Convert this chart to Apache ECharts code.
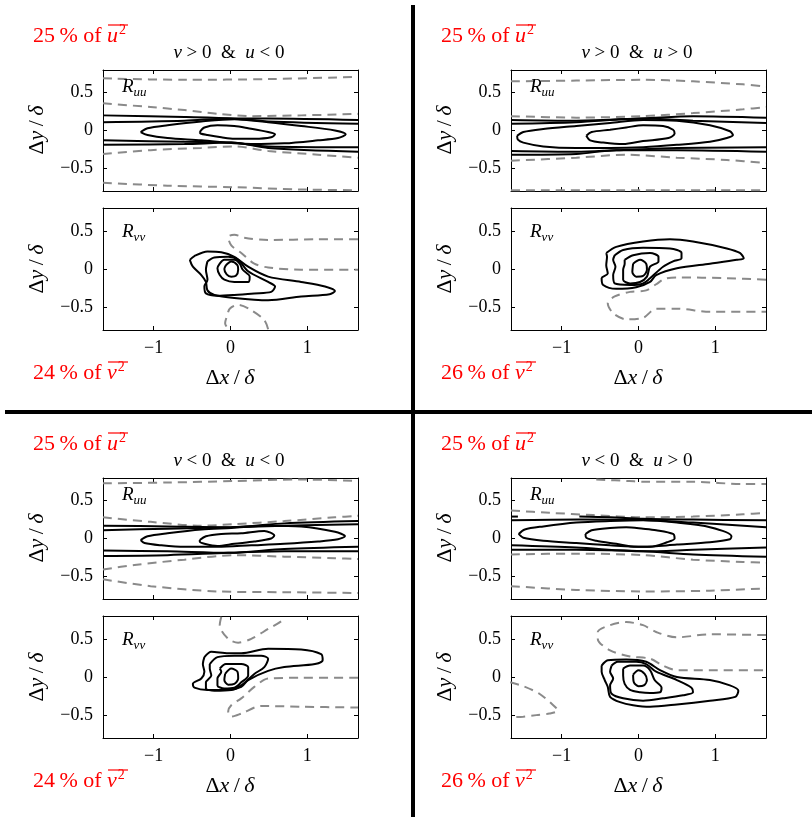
<!DOCTYPE html>
<html><head><meta charset="utf-8">
<script src="https://cdn.jsdelivr.net/npm/echarts@6/dist/echarts.min.js"></script>
<style>html,body{margin:0;padding:0;background:#fff}#c{width:812px;height:817px}</style>
</head><body><div id="c"></div>
<script>
// ---------- axis ranges and ticks ----------
const X_MIN = -1.66, X_MAX = 1.66, Y_MIN = -0.8, Y_MAX = 0.8;
const xTicks = [-1, 0, 1];
const yTicks = [-0.5, 0, 0.5];

// ---------- panel texts ----------
const vSigns = ['>', '>', '<', '<'];
const uSigns = ['<', '>', '<', '>'];
const uuPercents = ['25', '25', '25', '25'];
const vvPercents = ['24', '26', '24', '26'];

// ---------- top-left: v>0 & u<0 ----------
const tlUuInner = [[-0.40,-0.02],[-0.34,0.04],[-0.17,0.07],[0.05,0.06],[0.23,0.03],[0.49,-0.02],[0.58,-0.05],[0.53,-0.09],[0.31,-0.11],[0.05,-0.11],[-0.12,-0.09],[-0.30,-0.06],[-0.39,-0.04]];
const tlUuMid = [[-1.17,-0.02],[-1.08,0.03],[-0.82,0.07],[-0.38,0.12],[0.05,0.15],[0.49,0.11],[0.92,0.06],[1.36,0.0],[1.50,-0.05],[1.40,-0.10],[1.14,-0.13],[0.70,-0.17],[0.27,-0.18],[0.05,-0.17],[-0.38,-0.13],[-0.82,-0.10],[-1.08,-0.06]];
const tlUuUp1 = [[-1.66,0.20],[-0.60,0.18],[0.01,0.16],[0.49,0.12],[1.66,0.09]];
const tlUuUp2 = [[-1.66,0.11],[-0.60,0.13],[0.01,0.16],[0.49,0.16],[1.66,0.14]];
const tlUuLow1 = [[-1.66,-0.13],[-0.60,-0.15],[0.01,-0.16],[0.49,-0.21],[1.66,-0.22]];
const tlUuLow2 = [[-1.66,-0.19],[-0.60,-0.18],[0.01,-0.16],[0.49,-0.23],[1.66,-0.28]];
const tlUuD1 = [[-1.66,0.69],[-0.60,0.67],[0.49,0.68],[1.66,0.71]];
const tlUuD2 = [[-1.66,0.36],[-1.04,0.31],[-0.60,0.27],[-0.16,0.22],[0.27,0.19],[0.92,0.20],[1.66,0.22]];
const tlUuD3 = [[-1.66,-0.31],[-1.04,-0.26],[-0.38,-0.23],[0.05,-0.21],[0.49,-0.27],[1.14,-0.32],[1.66,-0.36]];
const tlUuD4 = [[-1.66,-0.69],[-0.82,-0.73],[0.05,-0.75],[0.92,-0.78],[1.66,-0.79]];
const tlVv1 = [[-0.06,0.05],[0.01,0.10],[0.09,0.05],[0.10,-0.01],[0.07,-0.09],[0.01,-0.10],[-0.05,-0.07],[-0.08,0.0]];
const tlVv2 = [[-0.14,0.07],[-0.08,0.12],[0.05,0.12],[0.12,0.07],[0.16,-0.01],[0.25,-0.10],[0.23,-0.17],[0.05,-0.17],[-0.08,-0.14],[-0.14,-0.08],[-0.17,0.01]];
const tlVv3 = [[-0.30,0.10],[-0.21,0.15],[-0.03,0.16],[0.10,0.12],[0.23,-0.03],[0.49,-0.17],[0.58,-0.23],[0.53,-0.30],[0.31,-0.32],[0.05,-0.34],[-0.17,-0.35],[-0.32,-0.32],[-0.34,-0.23],[-0.30,-0.14],[-0.32,-0.01]];
const tlVv4 = [[-0.53,0.12],[-0.47,0.17],[-0.30,0.23],[-0.12,0.22],[0.05,0.16],[0.23,0.03],[0.49,-0.10],[0.92,-0.17],[1.23,-0.23],[1.36,-0.29],[1.29,-0.33],[0.92,-0.36],[0.49,-0.41],[0.05,-0.38],[-0.21,-0.34],[-0.30,-0.28],[-0.32,-0.17],[-0.38,-0.08],[-0.49,0.03]];
const tlVvD1 = [[1.66,0.39],[1.14,0.39],[0.49,0.38],[0.18,0.41],[0.05,0.45],[-0.03,0.42],[0.01,0.31],[0.14,0.21],[0.31,0.07],[0.49,0.02],[0.92,-0.01],[1.66,-0.01]];
const tlVvD2 = [[0.49,-0.79],[0.44,-0.67],[0.27,-0.54],[0.10,-0.47],[-0.01,-0.52],[-0.04,-0.60],[-0.07,-0.71],[-0.03,-0.79]];

// ---------- top-right: v>0 & u>0 ----------
const trUuInner = [[-0.68,-0.07],[-0.61,-0.02],[-0.37,0.01],[-0.16,0.04],[0.06,0.07],[0.32,0.06],[0.45,0.01],[0.47,-0.04],[0.39,-0.10],[0.06,-0.14],[-0.20,-0.18],[-0.46,-0.16],[-0.63,-0.13]];
const trUuMid = [[-1.58,-0.07],[-1.50,-0.02],[-1.24,0.02],[-0.81,0.06],[-0.37,0.10],[0.06,0.14],[0.50,0.13],[0.93,0.07],[1.19,-0.01],[1.23,-0.06],[1.15,-0.10],[0.93,-0.15],[0.50,-0.19],[0.06,-0.22],[-0.37,-0.23],[-0.81,-0.23],[-1.24,-0.21],[-1.50,-0.16],[-1.57,-0.12]];
const trUuUp1 = [[-1.66,0.14],[-0.81,0.13],[0.06,0.16],[0.71,0.19],[1.66,0.17]];
const trUuUp2 = [[-1.66,0.09],[-0.81,0.11],[0.06,0.16],[0.71,0.13],[1.66,0.10]];
const trUuLow1 = [[-1.66,-0.27],[-0.81,-0.28],[-0.29,-0.26],[0.50,-0.23],[1.66,-0.22]];
const trUuLow2 = [[-1.66,-0.32],[-0.81,-0.31],[-0.29,-0.26],[0.50,-0.26],[1.66,-0.28]];
const trUuD1 = [[-1.66,0.65],[-0.81,0.66],[0.06,0.67],[0.71,0.65],[1.36,0.61],[1.66,0.58]];
const trUuD2 = [[-1.66,0.19],[-0.81,0.17],[0.06,0.19],[0.71,0.23],[1.36,0.28],[1.66,0.31]];
const trUuD3 = [[-1.66,-0.40],[-0.81,-0.36],[-0.16,-0.32],[0.50,-0.36],[1.15,-0.39],[1.66,-0.43]];
const trUuD4 = [[-1.66,-0.79],[0.06,-0.79],[1.66,-0.79]];
const trVv1 = [[-0.07,0.07],[0.02,0.12],[0.10,0.07],[0.11,-0.01],[0.06,-0.09],[-0.03,-0.10],[-0.08,-0.04]];
const trVv2 = [[-0.18,0.12],[-0.07,0.18],[0.15,0.21],[0.26,0.16],[0.26,0.10],[0.15,0.03],[0.11,-0.10],[0.02,-0.17],[-0.11,-0.19],[-0.20,-0.14],[-0.20,-0.01],[-0.18,0.07]];
const trVv3 = [[-0.31,0.18],[-0.20,0.25],[0.06,0.28],[0.41,0.27],[0.56,0.21],[0.56,0.14],[0.45,0.10],[0.32,0.03],[0.15,-0.12],[0.06,-0.19],[-0.11,-0.21],[-0.31,-0.19],[-0.33,-0.08],[-0.30,0.03],[-0.33,0.12]];
const trVv4 = [[-0.42,0.21],[-0.29,0.29],[0.06,0.36],[0.41,0.39],[0.71,0.36],[1.15,0.27],[1.32,0.21],[1.37,0.14],[1.28,0.12],[0.93,0.07],[0.50,0.01],[0.23,-0.08],[0.15,-0.17],[-0.03,-0.24],[-0.29,-0.26],[-0.46,-0.21],[-0.48,-0.12],[-0.40,-0.06],[-0.42,0.05],[-0.41,0.16]];
const trVvD1 = [[1.66,-0.14],[1.15,-0.12],[0.50,-0.11],[0.34,-0.13],[0.23,-0.20],[0.10,-0.28],[-0.11,-0.30],[-0.31,-0.36],[-0.40,-0.45],[-0.33,-0.58],[-0.16,-0.66],[0.06,-0.64],[0.23,-0.52],[0.50,-0.52],[0.93,-0.56],[1.66,-0.56]];

// ---------- bottom-left: v<0 & u<0 ----------
const blUuInner = [[-0.40,-0.02],[-0.32,0.03],[-0.12,0.06],[0.14,0.07],[0.44,0.10],[0.57,0.04],[0.53,0.0],[0.31,-0.04],[0.05,-0.07],[-0.17,-0.10],[-0.34,-0.07],[-0.40,-0.04]];
const blUuMid = [[-1.17,-0.02],[-1.08,0.03],[-0.82,0.07],[-0.38,0.12],[0.01,0.14],[0.49,0.17],[0.92,0.16],[1.36,0.09],[1.49,0.03],[1.40,-0.01],[1.14,-0.04],[0.70,-0.07],[0.27,-0.09],[-0.17,-0.11],[-0.60,-0.11],[-0.90,-0.09],[-1.12,-0.06]];
const blUuUp1 = [[-1.66,0.17],[-0.82,0.16],[0.01,0.15],[0.70,0.20],[1.66,0.23]];
const blUuUp2 = [[-1.66,0.11],[-0.82,0.13],[0.01,0.15],[0.70,0.17],[1.66,0.19]];
const blUuLow1 = [[-1.66,-0.16],[-0.82,-0.17],[-0.03,-0.19],[0.70,-0.14],[1.66,-0.11]];
const blUuLow2 = [[-1.66,-0.23],[-0.82,-0.22],[-0.03,-0.19],[0.70,-0.17],[1.66,-0.17]];
const blUuD1 = [[-1.66,0.73],[-0.82,0.74],[0.05,0.76],[0.92,0.78],[1.66,0.76]];
const blUuD2 = [[-1.66,0.28],[-1.04,0.22],[-0.38,0.17],[0.05,0.19],[0.70,0.23],[1.36,0.28],[1.66,0.30]];
const blUuD3 = [[-1.66,-0.41],[-1.25,-0.35],[-0.60,-0.28],[0.05,-0.22],[0.70,-0.24],[1.36,-0.26],[1.66,-0.27]];
const blUuD4 = [[-1.66,-0.54],[-1.04,-0.63],[-0.17,-0.70],[0.70,-0.71],[1.66,-0.72]];
const blVv1 = [[-0.07,0.04],[0.01,0.11],[0.09,0.07],[0.10,-0.02],[0.05,-0.09],[-0.03,-0.10],[-0.08,-0.04]];
const blVv2 = [[-0.14,0.11],[-0.06,0.17],[0.14,0.17],[0.23,0.13],[0.23,0.02],[0.14,-0.07],[0.05,-0.14],[-0.08,-0.15],[-0.17,-0.11],[-0.17,-0.02],[-0.12,0.07]];
const blVv3 = [[-0.27,0.17],[-0.17,0.26],[0.05,0.28],[0.40,0.28],[0.49,0.24],[0.44,0.13],[0.31,0.04],[0.14,-0.11],[0.01,-0.17],[-0.21,-0.18],[-0.32,-0.15],[-0.32,-0.07],[-0.25,0.02],[-0.27,0.11]];
const blVv4 = [[-0.34,0.26],[-0.25,0.33],[-0.03,0.31],[0.14,0.31],[0.49,0.37],[0.92,0.36],[1.18,0.30],[1.20,0.22],[1.10,0.17],[0.70,0.13],[0.49,0.08],[0.23,-0.04],[0.14,-0.13],[-0.03,-0.17],[-0.30,-0.17],[-0.47,-0.14],[-0.49,-0.09],[-0.38,-0.02],[-0.34,0.07],[-0.36,0.17]];
const blVvD1 = [[-0.12,0.79],[-0.14,0.68],[-0.03,0.50],[0.10,0.45],[0.27,0.50],[0.49,0.63],[0.66,0.73],[0.70,0.79]];
const blVvD2 = [[1.66,-0.01],[0.92,-0.01],[0.49,-0.02],[0.31,-0.13],[0.14,-0.28],[0.01,-0.37],[-0.03,-0.45],[0.01,-0.52],[0.14,-0.48],[0.40,-0.38],[0.92,-0.39],[1.66,-0.40]];

// ---------- bottom-right: v<0 & u>0 ----------
const brUuInner = [[-0.69,0.06],[-0.61,0.11],[-0.37,0.14],[-0.16,0.15],[0.06,0.13],[0.23,0.11],[0.45,0.06],[0.47,0.0],[0.37,-0.05],[0.15,-0.11],[-0.03,-0.11],[-0.29,-0.07],[-0.55,-0.03],[-0.68,0.01]];
const brUuMid = [[-1.56,0.06],[-1.48,0.12],[-1.24,0.16],[-0.81,0.21],[-0.37,0.23],[0.06,0.24],[0.50,0.21],[0.93,0.15],[1.21,0.03],[1.19,-0.01],[0.93,-0.05],[0.50,-0.08],[0.06,-0.11],[-0.37,-0.09],[-0.81,-0.06],[-1.24,-0.03],[-1.50,0.01]];
const brUuUp0 = [[-1.66,0.29],[-1.57,0.29]];
const brUuUp1 = [[-0.77,0.29],[-0.37,0.28],[0.06,0.26],[0.71,0.25],[1.66,0.24]];
const brUuUp2 = [[-1.66,0.24],[-0.77,0.25],[0.06,0.245],[0.71,0.21],[1.66,0.15]];
const brUuLow1 = [[-1.66,-0.09],[-0.81,-0.12],[0.06,-0.17],[0.71,-0.15],[1.66,-0.12]];
const brUuLow2 = [[-1.66,-0.15],[-0.81,-0.15],[0.06,-0.17],[0.71,-0.21],[1.66,-0.24]];
const brUuD1 = [[-0.55,0.78],[-0.12,0.76],[0.06,0.75],[0.71,0.75],[1.36,0.72],[1.66,0.72]];
const brUuD2 = [[-1.66,0.37],[-1.16,0.34],[-0.59,0.31],[0.06,0.28],[0.71,0.29],[1.36,0.32],[1.66,0.34]];
const brUuD3 = [[-1.66,-0.21],[-0.81,-0.20],[0.06,-0.22],[0.71,-0.28],[1.36,-0.31],[1.66,-0.32]];
const brUuD4 = [[-1.66,-0.63],[-0.81,-0.68],[0.06,-0.70],[0.93,-0.69],[1.66,-0.66]];
const brVv1 = [[-0.07,0.03],[0.0,0.09],[0.08,0.04],[0.11,-0.04],[0.07,-0.11],[0.0,-0.12],[-0.06,-0.07]];
const brVv2 = [[-0.20,0.11],[-0.11,0.15],[0.06,0.15],[0.15,0.09],[0.21,-0.04],[0.30,-0.14],[0.28,-0.20],[0.15,-0.21],[0.02,-0.20],[-0.11,-0.17],[-0.18,-0.09],[-0.20,0.02]];
const brVv3 = [[-0.35,0.15],[-0.27,0.20],[-0.03,0.20],[0.10,0.17],[0.23,0.07],[0.50,-0.04],[0.69,-0.14],[0.71,-0.20],[0.58,-0.24],[0.32,-0.28],[0.06,-0.31],[-0.20,-0.28],[-0.35,-0.22],[-0.37,-0.11],[-0.33,-0.02],[-0.37,0.07]];
const brVv4 = [[-0.48,0.15],[-0.40,0.22],[-0.16,0.23],[0.10,0.20],[0.28,0.09],[0.50,0.0],[0.93,-0.04],[1.19,-0.11],[1.30,-0.18],[1.26,-0.26],[0.93,-0.31],[0.50,-0.36],[0.15,-0.39],[-0.07,-0.37],[-0.24,-0.33],[-0.37,-0.26],[-0.40,-0.13],[-0.44,-0.04],[-0.48,0.07]];
const brVvD1 = [[1.66,0.55],[0.93,0.56],[0.50,0.52],[0.23,0.59],[0.06,0.68],[-0.16,0.72],[-0.37,0.68],[-0.53,0.59],[-0.53,0.50],[-0.37,0.35],[-0.11,0.27],[0.15,0.24],[0.32,0.15],[0.50,0.09],[0.93,0.09],[1.66,0.09]];
const brVvD2 = [[-1.67,-0.07],[-1.50,-0.12],[-1.29,-0.22],[-1.11,-0.37],[-1.05,-0.44],[-1.16,-0.48],[-1.33,-0.50],[-1.50,-0.52],[-1.67,-0.53]];

// ---------- grouping ----------
const quadrants = [
  { uu: { closed: [tlUuInner, tlUuMid], open: [tlUuUp1, tlUuUp2, tlUuLow1, tlUuLow2], dashed: [tlUuD1, tlUuD2, tlUuD3, tlUuD4] },
    vv: { closed: [tlVv1, tlVv2, tlVv3, tlVv4], open: [], dashed: [tlVvD1, tlVvD2] } },
  { uu: { closed: [trUuInner, trUuMid], open: [trUuUp1, trUuUp2, trUuLow1, trUuLow2], dashed: [trUuD1, trUuD2, trUuD3, trUuD4] },
    vv: { closed: [trVv1, trVv2, trVv3, trVv4], open: [], dashed: [trVvD1] } },
  { uu: { closed: [blUuInner, blUuMid], open: [blUuUp1, blUuUp2, blUuLow1, blUuLow2], dashed: [blUuD1, blUuD2, blUuD3, blUuD4] },
    vv: { closed: [blVv1, blVv2, blVv3, blVv4], open: [], dashed: [blVvD1, blVvD2] } },
  { uu: { closed: [brUuInner, brUuMid], open: [brUuUp0, brUuUp1, brUuUp2, brUuLow1, brUuLow2], dashed: [brUuD1, brUuD2, brUuD3, brUuD4] },
    vv: { closed: [brVv1, brVv2, brVv3, brVv4], open: [], dashed: [brVvD1, brVvD2] } }
];

// ---------- layout ----------
const FONT = "'Liberation Serif','Times New Roman',serif";
const qdx = [0, 408, 0, 408];
const qdy = [0, 0, 408, 408];
const PANEL_L = 103, PANEL_W = 255;
const UU_T = 70, UU_H = 121, VV_T = 208, VV_H = 122;
const GREY = '#8a8a8a';

const grids = [], xAxes = [], yAxes = [], series = [], graphics = [];
const minus = v => String(v).replace('-', '\u2212');

function addPanel(q, kind) {
  const dx = qdx[q], dy = qdy[q];
  const isUu = kind === 'uu';
  const gi = grids.length;
  grids.push({ left: PANEL_L + dx, top: (isUu ? UU_T : VV_T) + dy, width: PANEL_W, height: isUu ? UU_H : VV_H, containLabel: false });
  const axLine = { show: true, onZero: false, lineStyle: { color: '#000', width: 1 } };
  const tick = { show: true, inside: true, length: 4, lineStyle: { color: '#000' } };
  const xb = xAxes.length;
  xAxes.push({ gridIndex: gi, type: 'value', position: 'bottom', min: X_MIN, max: X_MAX,
    axisLine: axLine, splitLine: { show: false },
    axisTick: Object.assign({ customValues: xTicks }, tick),
    axisLabel: { show: !isUu, customValues: xTicks, margin: 9, formatter: minus, fontFamily: FONT, fontSize: 18, color: '#000' } });
  xAxes.push({ gridIndex: gi, type: 'value', position: 'top', min: X_MIN, max: X_MAX,
    axisLine: axLine, splitLine: { show: false },
    axisTick: Object.assign({ customValues: xTicks }, tick),
    axisLabel: { show: false } });
  const yb = yAxes.length;
  yAxes.push({ gridIndex: gi, type: 'value', position: 'left', min: Y_MIN, max: Y_MAX,
    axisLine: axLine, splitLine: { show: false },
    axisTick: Object.assign({ customValues: yTicks }, tick),
    axisLabel: { show: true, customValues: yTicks, margin: 10, formatter: minus, fontFamily: FONT, fontSize: 18, color: '#000' } });
  yAxes.push({ gridIndex: gi, type: 'value', position: 'right', min: Y_MIN, max: Y_MAX,
    axisLine: axLine, splitLine: { show: false },
    axisTick: Object.assign({ customValues: yTicks }, tick),
    axisLabel: { show: false } });
  const set = quadrants[q][kind];
  const base = { type: 'line', xAxisIndex: xb, yAxisIndex: yb, symbol: 'none', showSymbol: false, smooth: 0.3, clip: true, silent: true, animation: false };
  set.dashed.forEach(d => series.push(Object.assign({}, base, { data: d, lineStyle: { color: GREY, width: 2, type: [9, 6] }, z: 2 })));
  set.open.forEach(d => series.push(Object.assign({}, base, { data: d, lineStyle: { color: '#000', width: 2 }, z: 3 })));
  set.closed.forEach(d => series.push(Object.assign({}, base, { data: d.concat([d[0]]), lineStyle: { color: '#000', width: 2 }, z: 3 })));
}

const rich = {
  n: { fontFamily: FONT, fontSize: 19, fill: '#000', lineHeight: 24 },
  i: { fontFamily: FONT, fontSize: 19, fontStyle: 'italic', fill: '#000', lineHeight: 24 },
  rn: { fontFamily: FONT, fontSize: 22, fill: '#ff0000', lineHeight: 26 },
  ri: { fontFamily: FONT, fontSize: 22, fontStyle: 'italic', fill: '#ff0000', lineHeight: 26 },
  rs: { fontFamily: FONT, fontSize: 14, fill: '#ff0000', lineHeight: 26, verticalAlign: 'top', padding: [0, 0, 0, 1] },
  Ri: { fontFamily: FONT, fontSize: 19, fontStyle: 'italic', fill: '#000', lineHeight: 24 },
  sub: { fontFamily: FONT, fontSize: 13, fontStyle: 'italic', fill: '#000', lineHeight: 24, verticalAlign: 'bottom' },
  ax: { fontFamily: FONT, fontSize: 22, fill: '#000', lineHeight: 26 },
  axi: { fontFamily: FONT, fontSize: 22, fontStyle: 'italic', fill: '#000', lineHeight: 26 }
};
function txt(x, y, text, align, rot) {
  graphics.push({ type: 'text', x: x, y: y, rotation: rot || 0, silent: true, z: 10,
    style: { x: 0, y: 0, text: text, rich: rich, align: align, textAlign: align, verticalAlign: 'middle', textVerticalAlign: 'middle' } });
}
function overline(x1, x2, y) {
  graphics.push({ type: 'line', silent: true, z: 10, shape: { x1: x1, y1: y, x2: x2, y2: y }, style: { stroke: '#ff0000', lineWidth: 1.2 } });
}

for (let q = 0; q < 4; q++) {
  addPanel(q, 'uu');
  addPanel(q, 'vv');
  const dx = qdx[q], dy = qdy[q];
  txt(33 + dx, 36 + dy, '{rn|' + uuPercents[q] + '\u2009% of }{ri|u}{rs|2}', 'left');
  overline(108 + dx, 128 + dx, 25 + dy);
  txt(229 + dx, 53 + dy, '{i|v}{n| ' + vSigns[q] + ' 0  &  }{i|u}{n| ' + uSigns[q] + ' 0}', 'center');
  txt(122 + dx, 87 + dy, '{Ri|R}{sub|uu}', 'left');
  txt(122 + dx, 232 + dy, '{Ri|R}{sub|vv}', 'left');
  txt(37 + dx, 130 + dy, '{ax|\u0394}{axi|y}{ax|\u2009/\u2009}{axi|\u03b4}', 'center', Math.PI / 2);
  txt(37 + dx, 269 + dy, '{ax|\u0394}{axi|y}{ax|\u2009/\u2009}{axi|\u03b4}', 'center', Math.PI / 2);
  txt(230 + dx, 378 + dy, '{ax|\u0394}{axi|x}{ax|\u2009/\u2009}{axi|\u03b4}', 'center');
  txt(33 + dx, 373 + dy, '{rn|' + vvPercents[q] + '\u2009% of }{ri|v}{rs|2}', 'left');
  overline(108 + dx, 128 + dx, 362 + dy);
}

// quadrant dividers
graphics.push({ type: 'line', silent: true, z: 20, shape: { x1: 413, y1: 5, x2: 413, y2: 817 }, style: { stroke: '#000', lineWidth: 4 } });
graphics.push({ type: 'line', silent: true, z: 20, shape: { x1: 5, y1: 412, x2: 812, y2: 412 }, style: { stroke: '#000', lineWidth: 4 } });

const chart = echarts.init(document.getElementById('c'), null, { renderer: 'canvas' });
chart.setOption({
  backgroundColor: '#fff',
  animation: false,
  grid: grids, xAxis: xAxes, yAxis: yAxes, series: series,
  graphic: { elements: graphics }
});
</script>
</body></html>
